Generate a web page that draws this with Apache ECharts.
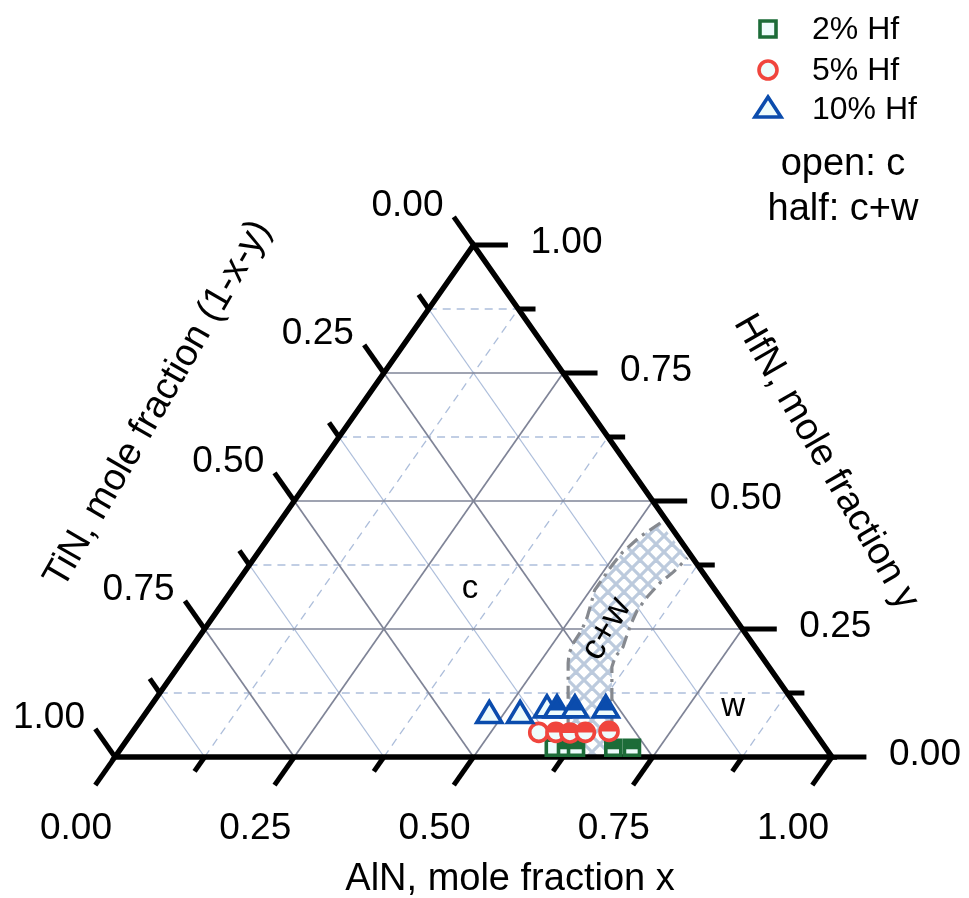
<!DOCTYPE html>
<html>
<head>
<meta charset="utf-8">
<title>AlN–TiN–HfN phase diagram</title>
<script src="https://cdn.jsdelivr.net/npm/echarts@6.0.0/dist/echarts.min.js"></script>
<style>
html, body { margin: 0; padding: 0; background: #ffffff; }
#chart { width: 969px; height: 898px; }
</style>
</head>
<body>
<div id="chart"></div>
<script>
const FONT = '"Liberation Sans", Arial, Helvetica, sans-serif';

// Shared tick values for the three composition axes
const majorTicks = [0, 0.25, 0.5, 0.75, 1];
const minorTicks = [0.125, 0.375, 0.625, 0.875];
const tickLabels = ['0.00', '0.25', '0.50', '0.75', '1.00'];
const majorGrid = [0.25, 0.5, 0.75];
const minorGrid = [0.125, 0.375, 0.625, 0.875];

// Sample compositions: x = AlN mole fraction, y = HfN mole fraction
const hf2X = [0.603, 0.620, 0.634, 0.686, 0.712];
const hf2Y = [0.018, 0.018, 0.018, 0.018, 0.018];
const hf2Phase = ['c', 'c+w', 'c+w', 'c+w', 'c+w'];

const hf5X = [0.567, 0.591, 0.611, 0.632, 0.664];
const hf5Y = [0.048, 0.048, 0.047, 0.048, 0.050];
const hf5Phase = ['c', 'c+w', 'c+w', 'c+w', 'c+w'];

const hf10X = [0.479, 0.522, 0.554, 0.568, 0.593, 0.636];
const hf10Y = [0.086, 0.086, 0.097, 0.097, 0.097, 0.097];
const hf10Phase = ['c', 'c', 'c', 'c+w', 'c+w', 'c+w'];

// Edges of the c+w two-phase band (top to bottom on the left, bottom to top on the right)
const bandLeftX = [0.532, 0.517, 0.508, 0.506, 0.506, 0.506, 0.512, 0.522, 0.527, 0.528, 0.532, 0.540, 0.632];
const bandLeftY = [0.457, 0.430, 0.400, 0.375, 0.346, 0.326, 0.307, 0.273, 0.248, 0.223, 0.203, 0.184, 0.000];
const bandRightX = [0.693, 0.605, 0.600, 0.601, 0.594, 0.589, 0.585, 0.586, 0.590, 0.598, 0.604];
const bandRightY = [0.000, 0.176, 0.195, 0.215, 0.242, 0.264, 0.287, 0.313, 0.340, 0.361, 0.389];

// Phase field labels
const regionNames = ['c', 'w', 'c+w'];
const regionX = [0.335, 0.817, 0.564];
const regionY = [0.320, 0.090, 0.248];

// ---- geometry helpers -------------------------------------------------
// ternary (AlN x, HfN y) -> plotting plane
const tern = (x, y) => [x + y / 2, y];
const segment = (a, b) => ({ coords: [a, b] });

const constHfN = v => segment(tern(0, v), tern(1 - v, v));
const constAlN = v => segment(tern(v, 0), tern(v, 1 - v));
const constTiN = t => segment(tern(1 - t, 0), tern(0, 1 - t));

const SLANT_MAJOR = 0.055, SLANT_MINOR = 0.028;
const FLAT_MAJOR = 0.048, FLAT_MINOR = 0.024;
const bottomTick = (v, L) => { const p = tern(v, 0); return segment(p, [p[0] - L / 2, p[1] - L]); };
const leftTick = (t, L) => { const p = tern(0, 1 - t); return segment(p, [p[0] - L / 2, p[1] + L]); };
const rightTick = (v, L) => { const p = tern(1 - v, v); return segment(p, [p[0] + L, p[1]]); };

// ---- colours -----------------------------------------------------------
const GRID_MAJOR = '#7f8497';
const GRID_MINOR = '#adbedb';
const GREEN = '#1c6c38';
const RED = '#f0453d';
const BLUE = '#0b4cad';
const PALE = '#eefcfc';
const MARK_W = 3.6;
const TITLE_ANGLE = Math.PI / 3;

// cross-hatch tile for the two-phase band
const hatch = document.createElement('canvas');
const HS = 16;
hatch.width = HS; hatch.height = HS;
(function () {
  const g = hatch.getContext('2d');
  g.fillStyle = '#ffffff';
  g.fillRect(0, 0, HS, HS);
  g.strokeStyle = '#bccadd';
  g.lineWidth = 3.2;
  for (const o of [-HS, 0, HS]) {
    g.beginPath(); g.moveTo(o - 2, -2); g.lineTo(o + HS + 2, HS + 2); g.stroke();
    g.beginPath(); g.moveTo(o + HS + 2, -2); g.lineTo(o - 2, HS + 2); g.stroke();
  }
})();

// ---- markers -------------------------------------------------------------
function drawMarker(shape, cx, cy, color, half) {
  const kids = [];
  const edge = { fill: 'none', stroke: color, lineWidth: MARK_W };
  if (shape === 'square') {
    const s = 15;
    const box = { x: cx - s / 2, y: cy - s / 2, width: s, height: s };
    kids.push({ type: 'rect', shape: box, style: { fill: PALE } });
    if (half) kids.push({ type: 'rect', shape: { x: box.x, y: box.y, width: s, height: s * 0.6 }, style: { fill: color } });
    kids.push({ type: 'rect', shape: box, style: edge });
  } else if (shape === 'circle') {
    const r = 9;
    kids.push({ type: 'circle', shape: { cx, cy, r }, style: { fill: PALE } });
    if (half) kids.push({ type: 'sector', shape: { cx, cy, r0: 0, r, startAngle: Math.PI, endAngle: 2 * Math.PI, clockwise: true }, style: { fill: color } });
    kids.push({ type: 'circle', shape: { cx, cy, r }, style: edge });
  } else {
    const w = 25, h = 21;
    const top = cy - h / 2 - 1;
    const pts = [[cx, top], [cx + w / 2, top + h], [cx - w / 2, top + h]];
    kids.push({ type: 'polygon', shape: { points: pts }, style: { fill: PALE } });
    if (half) {
      const f = 0.7;
      kids.push({ type: 'polygon', shape: { points: [[cx, top], [cx + f * w / 2, top + f * h], [cx - f * w / 2, top + f * h]] }, style: { fill: color } });
    }
    kids.push({ type: 'polygon', shape: { points: pts }, style: edge });
  }
  return { type: 'group', children: kids };
}

function markerSeries(name, shape, color, xs, ys, phases) {
  return {
    type: 'custom', name, coordinateSystem: 'cartesian2d', clip: false, silent: true, z: 30,
    data: xs.map((x, i) => tern(x, ys[i]).concat(phases[i] === 'c+w' ? 1 : 0)),
    encode: { x: 0, y: 1 },
    renderItem: (params, api) => {
      const c = api.coord([api.value(0), api.value(1)]);
      return drawMarker(shape, c[0], c[1], color, api.value(2) === 1);
    }
  };
}

function linesSeries(data, style, z) {
  return {
    type: 'lines', coordinateSystem: 'cartesian2d', polyline: true, clip: false, silent: true,
    z, lineStyle: Object.assign({ opacity: 1 }, style), data
  };
}

function labelSeries(points, names, offset, extra, z) {
  return {
    type: 'scatter', silent: true, clip: false, symbolSize: 1, z: z || 20,
    itemStyle: { color: 'transparent' },
    label: Object.assign({
      show: true, position: 'inside', offset, formatter: '{b}',
      fontSize: 37, fontFamily: FONT, color: '#000000', opacity: 1,
      textBorderWidth: 0, textShadowBlur: 0
    }, extra || {}),
    data: points.map((p, i) => ({ name: names[i], value: p }))
  };
}

// ---- assemble -------------------------------------------------------------
const bandLeft = bandLeftX.map((x, i) => tern(x, bandLeftY[i]));
const bandRight = bandRightX.map((x, i) => tern(x, bandRightY[i]));
const bandPolygon = bandLeft.concat(bandRight);

const triangleEdge = [tern(0, 0), tern(1, 0), tern(0, 1), tern(0, 0), tern(1, 0)];

const majorTickSegs = [].concat(
  majorTicks.map(v => bottomTick(v, SLANT_MAJOR)),
  majorTicks.map(v => leftTick(v, SLANT_MAJOR)),
  majorTicks.map(v => rightTick(v, FLAT_MAJOR))
);
const minorTickSegs = [].concat(
  minorTicks.map(v => bottomTick(v, SLANT_MINOR)),
  minorTicks.map(v => leftTick(v, SLANT_MINOR)),
  minorTicks.map(v => rightTick(v, FLAT_MINOR))
);

const chart = echarts.init(document.getElementById('chart'), null, { renderer: 'canvas' });

const option = {
  animation: false,
  backgroundColor: '#ffffff',
  grid: { left: 115, right: 137, top: 245, bottom: 141 },
  xAxis: { type: 'value', min: 0, max: 1, show: false },
  yAxis: { type: 'value', min: 0, max: 1, show: false },
  series: [
    // minor grid
    linesSeries(minorGrid.map(constTiN), { color: GRID_MINOR, width: 1.3, type: 'solid' }, 1),
    linesSeries(minorGrid.map(constHfN).concat(minorGrid.map(constAlN)), { color: GRID_MINOR, width: 1.3, type: [8, 6] }, 1),
    // major grid
    linesSeries([].concat(majorGrid.map(constTiN), majorGrid.map(constHfN), majorGrid.map(constAlN)), { color: GRID_MAJOR, width: 1.7 }, 2),
    // c+w band
    {
      type: 'custom', coordinateSystem: 'cartesian2d', clip: false, silent: true, z: 5,
      data: [[0, 0]],
      renderItem: (params, api) => ({
        type: 'polygon',
        shape: { points: bandPolygon.map(p => api.coord(p)) },
        style: { fill: { type: 'pattern', image: hatch, repeat: 'repeat' } }
      })
    },
    linesSeries([{ coords: bandLeft }, { coords: bandRight }], { color: '#86898f', width: 3.2, type: [13, 6, 3, 6] }, 6),
    // frame and ticks
    linesSeries([{ coords: triangleEdge }], { color: '#000000', width: 5.5, join: 'miter' }, 10),
    linesSeries(majorTickSegs.concat(minorTickSegs), { color: '#000000', width: 5, cap: 'butt' }, 10),
    // tick labels
    labelSeries(majorTicks.map(v => tern(v, 0)), tickLabels, [-39, 72]),
    labelSeries(majorTicks.map(t => tern(0, 1 - t)), tickLabels, [-66, -39]),
    labelSeries(majorTicks.map(v => tern(1 - v, v)), tickLabels, [93, -2]),
    // phase field labels
    labelSeries(regionNames.slice(0, 2).map((n, i) => tern(regionX[i], regionY[i])), regionNames.slice(0, 2), [0, -4], { fontSize: 33 }),
    labelSeries([tern(regionX[2], regionY[2])], [regionNames[2]], [0, -2], { fontSize: 36, rotate: 60 }, 8),
    // samples
    markerSeries('2% Hf', 'square', GREEN, hf2X, hf2Y, hf2Phase),
    markerSeries('5% Hf', 'circle', RED, hf5X, hf5Y, hf5Phase),
    markerSeries('10% Hf', 'triangle', BLUE, hf10X, hf10Y, hf10Phase)
  ],
  graphic: [
    // axis titles
    { type: 'text', x: 510, y: 880, silent: true,
      style: { text: 'AlN, mole fraction x', font: '38px ' + FONT, fill: '#000', textAlign: 'center', textVerticalAlign: 'middle' } },
    { type: 'text', x: 158, y: 404, rotation: TITLE_ANGLE, silent: true,
      style: { text: 'TiN, mole fraction (1-x-y)', font: '38px ' + FONT, fill: '#000', textAlign: 'center', textVerticalAlign: 'middle' } },
    { type: 'text', x: 826, y: 462, rotation: -TITLE_ANGLE, silent: true,
      style: { text: 'HfN, mole fraction y', font: '38px ' + FONT, fill: '#000', textAlign: 'center', textVerticalAlign: 'middle' } },
    // key
    { type: 'rect', silent: true, shape: { x: 760, y: 21, width: 16, height: 16 }, style: { fill: PALE, stroke: GREEN, lineWidth: MARK_W } },
    { type: 'circle', silent: true, shape: { cx: 768, cy: 70, r: 9 }, style: { fill: PALE, stroke: RED, lineWidth: MARK_W } },
    { type: 'polygon', silent: true, shape: { points: [[768, 97], [781, 117], [755, 117]] }, style: { fill: PALE, stroke: BLUE, lineWidth: MARK_W } },
    { type: 'text', x: 812, y: 30, silent: true, style: { text: '2% Hf', font: '32px ' + FONT, fill: '#000', textVerticalAlign: 'middle' } },
    { type: 'text', x: 812, y: 71, silent: true, style: { text: '5% Hf', font: '32px ' + FONT, fill: '#000', textVerticalAlign: 'middle' } },
    { type: 'text', x: 812, y: 110, silent: true, style: { text: '10% Hf', font: '32px ' + FONT, fill: '#000', textVerticalAlign: 'middle' } },
    { type: 'text', x: 843, y: 165, silent: true, style: { text: 'open: c', font: '38px ' + FONT, fill: '#000', textAlign: 'center', textVerticalAlign: 'middle' } },
    { type: 'text', x: 843, y: 210, silent: true, style: { text: 'half: c+w', font: '38px ' + FONT, fill: '#000', textAlign: 'center', textVerticalAlign: 'middle' } }
  ]
};

chart.setOption(option);
</script>
</body>
</html>
